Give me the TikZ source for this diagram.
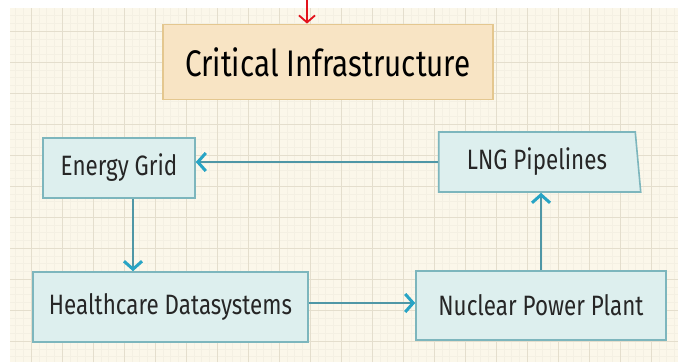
\documentclass[tikz,border=0pt]{standalone}
\usepackage{fontspec}
\setmainfont{Fira Sans}
\newfontfamily\handfont[FakeStretch=0.8]{Fira Sans}
\usetikzlibrary{arrows.meta,shapes.geometric,calc}

\definecolor{paper}{HTML}{FBF7EA}
\definecolor{gridmajor}{HTML}{E4DECD}
\definecolor{gridminor}{HTML}{F4F0E3}
\definecolor{boxfill}{HTML}{DDEFEE}
\definecolor{boxline}{HTML}{7DB6BD}
\definecolor{flowline}{HTML}{4F97A6}
\definecolor{flowhead}{HTML}{27A4C5}
\definecolor{titlefill}{HTML}{F8E4C4}
\definecolor{titleline}{HTML}{E4C78F}
\definecolor{pen}{HTML}{E3121C}

\begin{document}
\begin{tikzpicture}[x=1pt,y=-1pt,
    infra/.style={rectangle, draw=boxline, fill=boxfill, line width=1.6pt,
      font=\handfont\fontsize{28}{30}\selectfont, text=black!85},
    flow/.style={draw=flowline, line width=1.2pt,
      -{Straight Barb[length=8pt,width=18pt,line width=3pt,color=flowhead]}}]
    \useasboundingbox (0,0) rectangle (678,362);

    % paper and grid
    \fill[paper] (10,8) rectangle (678,362);
    \draw[gridminor, line width=0.4pt, step=7.75pt] (10,8) grid (678,362);
    \draw[gridmajor, line width=0.9pt, step=31pt] (10,8) grid (678,362);

    % title
    \node (title) at (328,62) [rectangle, draw=titleline, fill=titlefill, line width=1.8pt,
      minimum width=330pt, minimum height=75pt,
      font=\handfont\fontsize{37}{40}\selectfont] {Critical Infrastructure};

    % the four sites
    \node (energy) at (119,168) [infra, minimum width=152pt, minimum height=60pt] {Energy Grid};
    \node (health) at (170.5,307) [infra, minimum width=275pt, minimum height=70pt] {Healthcare Datasystems};
    \node (nuclear) at (541,305.5) [infra, minimum width=250pt, minimum height=69pt] {Nuclear Power Plant};
    \node (lng) at (537,162) [infra, trapezium, trapezium stretches body,
      trapezium left angle=90, trapezium right angle=81,
      minimum width=202pt, minimum height=60pt] {LNG Pipelines};

    % connectors
    \coordinate (mark) at (307,0);
    \draw[pen, line width=1.8pt, -{Straight Barb[length=7pt,width=16pt,line width=1.8pt]}]
      (mark) -- (mark |- title.north);
    \draw[flow] (lng.west) -- (lng.west -| energy.east);
    \draw[flow] ([xshift=14pt]energy.south) -- ([xshift=14pt]energy.south |- health.north);
    \draw[flow] ($(health.east)+(0,-4)$) -- ($(health.east -| nuclear.west)+(0,-4)$);
    \draw[flow] (nuclear.north) -- (nuclear.north |- lng.south);
\end{tikzpicture}
\end{document}
